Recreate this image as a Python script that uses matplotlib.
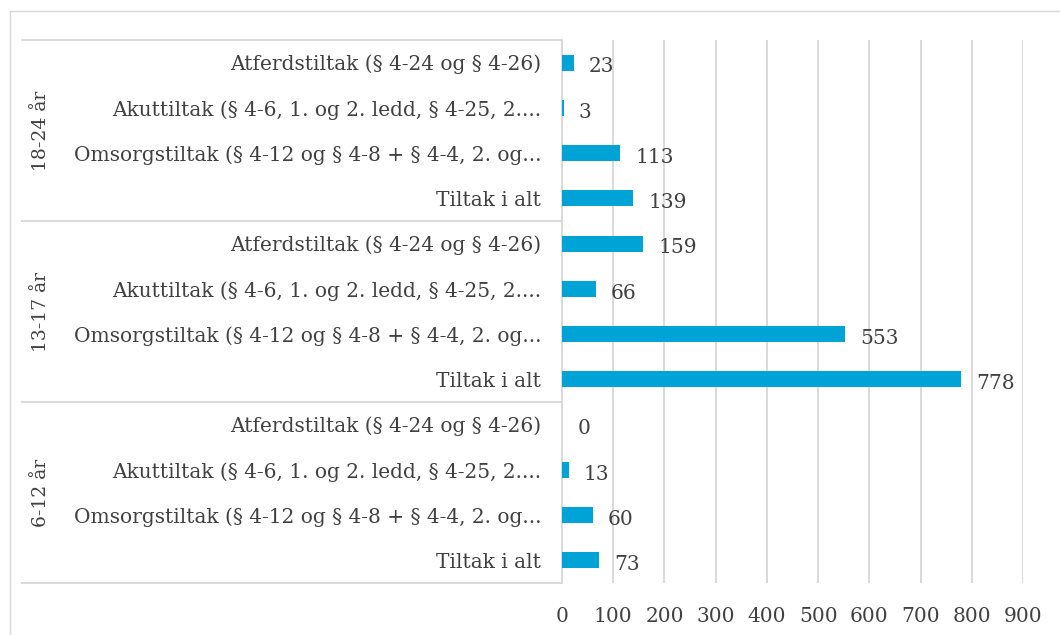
import matplotlib.pyplot as plt
import matplotlib.transforms as mtransforms
from matplotlib.lines import Line2D

# Category order bottom to top within each age group
measures = [
    "Tiltak i alt",
    "Omsorgstiltak (§ 4-12 og § 4-8 + § 4-4, 2. og...",
    "Akuttiltak (§ 4-6, 1. og 2. ledd, § 4-25, 2....",
    "Atferdstiltak (§ 4-24 og § 4-26)",
]
age_groups = ["6-12 år", "13-17 år", "18-24 år"]
values_6_12 = [73, 60, 13, 0]
values_13_17 = [778, 553, 66, 159]
values_18_24 = [139, 113, 3, 23]
x_ticks = [0, 100, 200, 300, 400, 500, 600, 700, 800, 900]

BAR_COLOR = "#00A3D6"
GRID_COLOR = "#d9d9d9"
TEXT_COLOR = "#404040"
FONT = "DejaVu Serif"
FS = 14.5

plt.rcParams["font.family"] = FONT
plt.rcParams["text.color"] = TEXT_COLOR

W, H = 1060, 635
fig = plt.figure(figsize=(W / 100, H / 100), dpi=100)
ax = fig.add_axes([562 / W, 1 - 583 / H, 461 / W, (583 - 40) / H])

values = values_6_12 + values_13_17 + values_18_24
labels = measures * len(age_groups)
ypos = list(range(len(values)))

ax.barh(ypos, values, height=0.35, color=BAR_COLOR, zorder=3)
for y, v in zip(ypos, values):
    ax.annotate(str(v), (v, y), xytext=(11, -3), textcoords="offset points",
                ha="left", va="center", fontsize=FS, color=TEXT_COLOR)

ax.set_xlim(0, 900)
ax.set_ylim(-0.5, len(values) - 0.5)
ax.set_xticks(x_ticks)
ax.set_yticks(ypos)
ax.set_yticklabels(labels, fontsize=FS, color=TEXT_COLOR)
ax.tick_params(axis="y", length=0, pad=15)
ax.tick_params(axis="x", length=0, pad=17, labelsize=FS, labelcolor=TEXT_COLOR)
ax.grid(axis="x", color=GRID_COLOR, lw=1.4, zorder=0)
for side in ("top", "right", "bottom"):
    ax.spines[side].set_visible(False)
ax.spines["left"].set_color(GRID_COLOR)
ax.spines["left"].set_linewidth(1.4)

# Group separators and rotated group labels left of the category labels
trans = mtransforms.blended_transform_factory(fig.transFigure, ax.transData)
n = len(measures)
for i in range(len(age_groups) + 1):
    yb = i * n - 0.5
    ax.add_line(Line2D([22 / W, 562 / W], [yb, yb], transform=trans,
                       color=GRID_COLOR, lw=1.4, clip_on=False))
for i, g in enumerate(age_groups):
    ax.text(41 / W, i * n + (n - 1) / 2, g, transform=trans, rotation=90,
            ha="center", va="center", fontsize=13.5, color=TEXT_COLOR)

# Chart frame
fig.add_artist(Line2D([10 / W, 10 / W], [0, 1 - 11 / H], color=GRID_COLOR, lw=1.0))
fig.add_artist(Line2D([10 / W, 1], [1 - 11 / H, 1 - 11 / H], color=GRID_COLOR, lw=1.0))

fig.savefig("out.png", dpi=100)
